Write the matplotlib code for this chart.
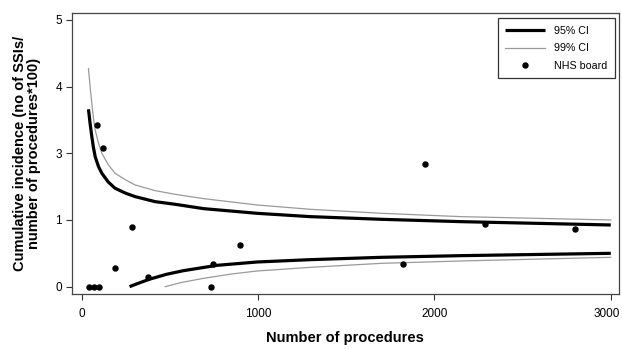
import matplotlib
matplotlib.use("Agg")
import matplotlib.pyplot as plt
import matplotlib.transforms as mtransforms

plt.rcParams['font.family'] = ['Liberation Sans', 'DejaVu Sans']

# funnel limits (axis position units)
up95_x = [38, 48, 57, 66, 76, 95, 114, 150, 189, 250, 303, 416, 530, 691, 994, 1297, 1700, 2150, 3000]
up95_y = [2.66, 2.43, 2.25, 2.09, 1.95, 1.80, 1.70, 1.57, 1.475, 1.40, 1.35, 1.275, 1.235, 1.17, 1.10, 1.05, 1.01, 0.975, 0.925]
up99_x = [38, 48, 57, 66, 76, 95, 114, 150, 189, 250, 303, 416, 530, 691, 994, 1297, 1700, 2150, 3000]
up99_y = [3.27, 2.98, 2.75, 2.53, 2.35, 2.15, 2.0, 1.83, 1.70, 1.60, 1.525, 1.44, 1.385, 1.32, 1.225, 1.16, 1.10, 1.05, 1.0]
lo95_x = [271, 330, 388, 480, 577, 767, 994, 1297, 1700, 2150, 3000]
lo95_y = [0.0, 0.06, 0.115, 0.185, 0.24, 0.32, 0.37, 0.405, 0.44, 0.465, 0.50]
lo99_x = [473, 560, 691, 850, 994, 1297, 1700, 2150, 3000]
lo99_y = [0.0, 0.06, 0.125, 0.19, 0.235, 0.29, 0.35, 0.385, 0.44]

# NHS boards
board_n = [43, 68, 100, 85, 123, 189, 284, 378, 735, 742, 899, 1822, 1945, 2286, 2797]
board_y = [0.0, 0.0, 0.0, 2.42, 2.08, 0.28, 0.89, 0.14, 0.0, 0.34, 0.62, 0.34, 1.84, 0.935, 0.865]

ytick_pos = [0, 1, 2, 3, 4]
ytick_lab = ['0', '1', '3', '4', '5']
xtick_pos = [0, 1000, 2000, 3000]

fig = plt.figure(figsize=(6.22, 3.49), dpi=100)
ax = fig.add_axes([0.1153, 0.1576, 0.8797, 0.8044])

ax.plot(up95_x, up95_y, color='black', lw=2.3, label='95% CI', solid_capstyle='butt')
ax.plot(lo95_x, lo95_y, color='black', lw=2.3, solid_capstyle='butt')
ax.plot(up99_x, up99_y, color='#9a9a9a', lw=0.9, label='99% CI')
ax.plot(lo99_x, lo99_y, color='#9a9a9a', lw=0.9)
ax.plot(board_n, board_y, 'o', color='black', ms=3.6, label='NHS board')

ax.set_xlim(-57, 3046)
ax.set_ylim(-0.11, 4.10)
ax.set_xticks(xtick_pos)
ax.set_yticks(ytick_pos)
ax.set_yticklabels(ytick_lab)
ax.tick_params(direction='out', length=4, width=0.8, labelsize=8.5, color='#333333', pad=3)
ax.tick_params(axis='x', pad=6)
for s in ax.spines.values():
    s.set_color('#444444')
    s.set_linewidth(0.9)

# keep the last x label inside the canvas
last = ax.get_xticklabels()[-1]
last.set_transform(last.get_transform() + mtransforms.ScaledTranslation(-3 / 72, 0, fig.dpi_scale_trans))

ax.set_xlabel('Number of procedures', fontsize=10.5, fontweight='bold', labelpad=8)
ax.set_ylabel('Cumulative incidence (no of SSIs/\nnumber of procedures*100)', fontsize=10.5,
              fontweight='bold', labelpad=10, linespacing=1.05)

leg = ax.legend(loc='upper right', bbox_to_anchor=(0.993, 0.982), fontsize=7.7, frameon=True,
                fancybox=False, edgecolor='black', borderpad=0.7, handlelength=3.7,
                labelspacing=0.7, handletextpad=0.9, borderaxespad=0)
leg.get_frame().set_linewidth(0.9)

fig.savefig('out.png', dpi=100)
